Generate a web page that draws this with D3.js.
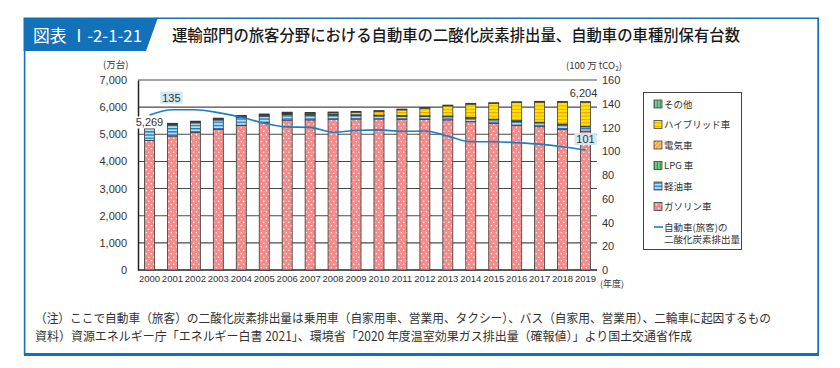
<!DOCTYPE html>
<html><head><meta charset="utf-8">
<script src="https://cdn.jsdelivr.net/npm/d3@7"></script>
<style>
html,body{margin:0;padding:0;background:#fff;}
svg{display:block;font-family:"Noto Sans CJK JP","Noto Sans",sans-serif;}
</style></head>
<body>
<svg id="c" width="840" height="368"></svg>
<script>
const years = ["2000","2001","2002","2003","2004","2005","2006","2007","2008","2009","2010","2011","2012","2013","2014","2015","2016","2017","2018","2019"];
const gasoline = [4770,4937,5072,5183,5331,5428,5520,5530,5560,5565,5565,5555,5545,5530,5465,5405,5335,5280,5185,5115];
const diesel   = [445,410,350,345,290,240,210,180,150,130,115,110,110,115,130,125,140,140,165,160];
const lpg      = [30,30,29,29,28,28,27,27,26,25,24,23,22,21,20,19,18,16,14,12];
const electric = [0,0,0,0,0,0,0,0,0,0,1,2,3,5,6,7,8,9,11,12];
const hybrid   = [3,5,8,12,17,23,28,40,55,95,140,210,280,375,490,578,670,740,805,880];
const other    = [21,23,25,27,28,30,30,30,30,30,30,30,30,30,30,30,30,30,30,25];
const co2      = [130.5,135,135,132.5,128.6,123.6,120.5,120.1,116,117.5,118,116.8,117,112.8,108,108,107.2,106,103.8,101];
const leftTicks = [0,1000,2000,3000,4000,5000,6000,7000];
const rightTicks = [0,20,40,60,80,100,120,140,160];
const seriesKeys = ["gasoline","diesel","lpg","electric","hybrid","other"];
const seriesNames = {gasoline:"ガソリン車",diesel:"軽油車",lpg:"LPG 車",electric:"電気車",hybrid:"ハイブリッド車",other:"その他"};
const legendOrder = ["other","hybrid","electric","lpg","diesel","gasoline"];
const titleText = "運輸部門の旅客分野における自動車の二酸化炭素排出量、自動車の車種別保有台数";
const figNo = "図表 Ⅰ-2-1-21";
const note1 = "（注）ここで自動車（旅客）の二酸化炭素排出量は乗用車（自家用車、営業用、タクシー）、バス（自家用、営業用）、二輪車に起因するもの";
const note2 = "資料）資源エネルギー庁「エネルギー白書 2021」、環境省「2020 年度温室効果ガス排出量（確報値）」より国土交通省作成";

const table = years.map((y,i)=>({year:y,gasoline:gasoline[i],diesel:diesel[i],lpg:lpg[i],electric:electric[i],hybrid:hybrid[i],other:other[i],co2:co2[i]}));

const numFont = "'Liberation Sans','DejaVu Sans',sans-serif";
const svg = d3.select("#c");
const defs = svg.append("defs");
function pat(id,w,h,bg,draw,rot){
  const p = defs.append("pattern").attr("id",id).attr("patternUnits","userSpaceOnUse").attr("width",w).attr("height",h);
  if(rot) p.attr("patternTransform","rotate("+rot+")");
  p.append("rect").attr("width",w).attr("height",h).attr("fill",bg);
  draw(p);
}
pat("pGas",5,7,"#f28b89",p=>{
  p.append("circle").attr("cx",1.3).attr("cy",1.8).attr("r",0.75).attr("fill","#fff");
  p.append("circle").attr("cx",3.8).attr("cy",5.3).attr("r",0.75).attr("fill","#fff");
});
pat("pDiesel",4,3.2,"#b3def4",p=>{p.append("rect").attr("y",0).attr("width",4).attr("height",1.3).attr("fill","#1d78c0");});
pat("pLpg",3,4,"#2f9e45",p=>{p.append("rect").attr("x",1.5).attr("width",0.9).attr("height",4).attr("fill","#c9efb8");});
pat("pElec",3,3,"#f5a33b",p=>{p.append("rect").attr("x",0).attr("width",1).attr("height",3).attr("fill","#ffd89a");},45);
pat("pHybrid",4,3.4,"#ffe500",p=>{p.append("rect").attr("y",0).attr("width",4).attr("height",1).attr("fill","#f2a000");});
pat("pOther",3,4,"#3a9a66",p=>{p.append("rect").attr("x",1.5).attr("width",0.9).attr("height",4).attr("fill","#d8f0d0");});
const fills = {gasoline:"url(#pGas)",diesel:"url(#pDiesel)",lpg:"url(#pLpg)",electric:"url(#pElec)",hybrid:"url(#pHybrid)",other:"url(#pOther)"};

// Frame
const blue = "#1371b9";
svg.append("path").attr("d","M23.5,17.5 L158,17.5 L146,51 L23.5,51 Z").attr("fill",blue);
svg.append("text").attr("x",33).attr("y",41.5).attr("fill","#fff").attr("font-size",17)
  .attr("textLength",109).attr("lengthAdjust","spacingAndGlyphs").text(figNo);
svg.append("line").attr("x1",156).attr("x2",819).attr("y1",18.3).attr("y2",18.3).attr("stroke",blue).attr("stroke-width",1.6);
svg.append("line").attr("x1",24.6).attr("x2",24.6).attr("y1",50).attr("y2",355).attr("stroke",blue).attr("stroke-width",1.6);
svg.append("line").attr("x1",818.2).attr("x2",818.2).attr("y1",18).attr("y2",355).attr("stroke",blue).attr("stroke-width",1.8);
svg.append("line").attr("x1",24).attr("x2",819).attr("y1",354.5).attr("y2",354.5).attr("stroke",blue).attr("stroke-width",3);
svg.append("text").attr("x",172).attr("y",41).attr("fill","#1a1a1a").attr("font-size",15.5).attr("font-weight",500)
  .attr("textLength",568).attr("lengthAdjust","spacingAndGlyphs").text(titleText);

// Scales
const x = d3.scaleBand().domain(years).range([138,597]).paddingInner(0.564).paddingOuter(0.282);
const yL = d3.scaleLinear().domain([0,7000]).range([270,80]);
const yR = d3.scaleLinear().domain([0,160]).range([270,80]);

// Gridlines
svg.append("g").selectAll("line").data(leftTicks).join("line")
  .attr("x1",138).attr("x2",597).attr("y1",d=>yL(d)).attr("y2",d=>yL(d))
  .attr("stroke",d=>d===0?"#222":"#4a4a4a").attr("stroke-width",d=>d===0?1.5:1.1);

// Left axis
const axL = svg.append("g").attr("transform","translate(138,0)")
  .call(d3.axisLeft(yL).tickValues(leftTicks).tickFormat(d3.format(",")).tickSize(0).tickPadding(11));
axL.select(".domain").attr("stroke","#222").attr("stroke-width",1.5);
axL.selectAll("text").attr("font-size",11).attr("fill","#333").attr("font-family",numFont);

// Right axis
const axR = svg.append("g").attr("transform","translate(597,0)")
  .call(d3.axisRight(yR).tickValues(rightTicks).tickSize(0).tickPadding(5));
axR.select(".domain").remove();
axR.selectAll("text").attr("font-size",11).attr("fill","#333").attr("font-family",numFont);

// Bottom axis
const axB = svg.append("g").attr("transform","translate(0,270)")
  .call(d3.axisBottom(x).tickSize(0).tickPadding(5));
axB.select(".domain").remove();
axB.selectAll("text").attr("font-size",9.5).attr("fill","#333").attr("font-family",numFont);

// Unit labels
svg.append("text").attr("x",103).attr("y",68).attr("font-size",9.5).attr("fill","#333").text("(万台)");
const u = svg.append("text").attr("x",566).attr("y",69).attr("font-size",9.5).attr("fill","#333");
u.append("tspan").text("(100 万 tCO");
u.append("tspan").attr("font-size",6.5).attr("dy",2).text("2");
u.append("tspan").attr("dy",-2).text(")");
svg.append("text").attr("x",600).attr("y",287).attr("font-size",9).attr("fill","#333").text("(年度)");

// Stacked bars
const stack = d3.stack().keys(seriesKeys)(table);
svg.append("g").selectAll("g").data(stack).join("g")
  .attr("fill",d=>fills[d.key])
  .selectAll("rect").data(d=>d).join("rect")
  .attr("x",d=>x(d.data.year)).attr("width",x.bandwidth())
  .attr("y",d=>yL(d[1])).attr("height",d=>Math.max(0,yL(d[0])-yL(d[1])))
  .attr("stroke","#3a3a3a").attr("stroke-width",0.8);

// CO2 line
const line = d3.line().x(d=>x(d.year)+x.bandwidth()/2).y(d=>yR(d.co2)).curve(d3.curveMonotoneX);
svg.append("path").datum(table).attr("d",line).attr("fill","none").attr("stroke","#1f7dc2").attr("stroke-width",1.6);

// Labels
function boxLabel(cx,cy,txt,bg){
  const g = svg.append("g");
  const t = g.append("text").attr("x",cx).attr("y",cy+4).attr("text-anchor","middle").attr("font-size",11)
    .attr("fill","#333").attr("font-family",numFont).text(txt);
  const bb = t.node().getBBox();
  g.insert("rect","text").attr("x",bb.x-2).attr("y",cy-6).attr("width",bb.width+4).attr("height",12).attr("fill",bg);
}
const c01 = x(years[1])+x.bandwidth()/2;
const c19 = x(years[19])+x.bandwidth()/2;
const c00 = x(years[0])+x.bandwidth()/2;
boxLabel(c01-1, yR(co2[1])-12, String(co2[1]), "#d3e8f6");
boxLabel(c19, yR(co2[19])-11, String(co2[19]), "#d3e8f6");
const tot = i=>gasoline[i]+diesel[i]+lpg[i]+electric[i]+hybrid[i]+other[i];
boxLabel(c00, yL(tot(0))-4.5, d3.format(",")(tot(0)), "#fff");
boxLabel(c19-2, yL(tot(19))-9, d3.format(",")(tot(19)), "#fff");

// Legend
const lg = svg.append("g");
lg.append("rect").attr("x",643.5).attr("y",92.5).attr("width",98).attr("height",157).attr("fill","#fff").attr("stroke","#444").attr("stroke-width",1);
legendOrder.forEach((k,i)=>{
  const cy = 104 + i*20.5;
  lg.append("rect").attr("x",654).attr("y",cy-4).attr("width",8).attr("height",8).attr("fill",fills[k]).attr("stroke","#444").attr("stroke-width",0.8);
  lg.append("text").attr("x",664).attr("y",cy+3.5).attr("font-size",9.5).attr("fill","#333").text(seriesNames[k]);
});
lg.append("line").attr("x1",654).attr("x2",663).attr("y1",227).attr("y2",227).attr("stroke","#1f7dc2").attr("stroke-width",1.6);
lg.append("text").attr("x",664).attr("y",230.5).attr("font-size",9.5).attr("fill","#333").text("自動車(旅客)の");
lg.append("text").attr("x",664).attr("y",243).attr("font-size",9.5).attr("fill","#333").text("二酸化炭素排出量");

// Notes
svg.append("text").attr("x",35).attr("y",323).attr("font-size",12.5).attr("fill","#333")
  .attr("textLength",736).attr("lengthAdjust","spacingAndGlyphs").text(note1);
svg.append("text").attr("x",35).attr("y",341).attr("font-size",12.5).attr("fill","#333")
  .attr("textLength",657).attr("lengthAdjust","spacingAndGlyphs").text(note2);
</script>
</body></html>
